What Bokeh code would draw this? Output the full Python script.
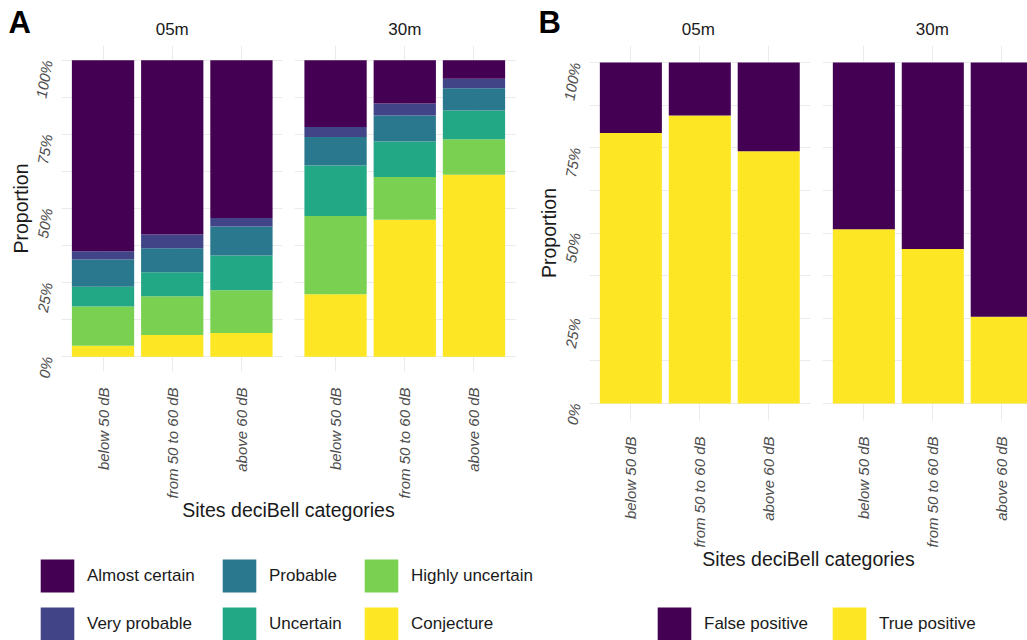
from bokeh.plotting import figure
from bokeh.models import (ColumnDataSource, Range1d, FixedTicker, Grid,
                          Label, Legend, LegendItem, PrintfTickFormatter)
from bokeh.layouts import row, column
from bokeh.embed import file_html
from bokeh.resources import INLINE
import math

# ---------------- data ----------------
facets = ["05m", "30m"]
categories = ["below 50 dB", "from 50 to 60 dB", "above 60 dB"]

# Panel A: percentage of each confidence level per bar (05m x 3 categories, then 30m x 3)
levels_a = ["Almost certain", "Very probable", "Probable", "Uncertain", "Highly uncertain", "Conjecture"]
almost_certain = [64.4, 58.8, 53.2, 22.5, 14.6, 6.2]
very_probable = [2.8, 4.6, 2.9, 3.4, 4.0, 3.2]
probable = [9.2, 8.1, 9.8, 9.6, 8.8, 7.5]
uncertain = [6.7, 8.1, 11.7, 17.0, 12.0, 9.7]
highly_uncertain = [13.2, 13.1, 14.4, 26.4, 14.4, 12.0]
conjecture = [3.7, 7.3, 8.0, 21.1, 46.2, 61.4]

# Panel B
levels_b = ["False positive", "True positive"]
false_positive = [20.7, 15.5, 26.0, 48.9, 54.7, 74.6]
true_positive = [79.3, 84.5, 74.0, 51.1, 45.3, 25.4]

y_ticks = [0, 25, 50, 75, 100]
y_minor = [12.5, 37.5, 62.5, 87.5]

# ---------------- style ----------------
VIRIDIS6 = ["#440154", "#414487", "#2A788E", "#22A884", "#7AD151", "#FDE725"]
VIRIDIS2 = ["#440154", "#FDE725"]
FONT = "Liberation Sans"
GRID = "#EBEBEB"
TXT = "#1A1A1A"
TICK_TXT = "#4D4D4D"


def positions(offset):
    xs = []
    for f in range(len(facets)):
        for i in range(len(categories)):
            xs.append(round(1 + i + f * offset, 4))
    return xs


def blank(width, height, x_range, y_range):
    p = figure(width=width, height=height, output_backend="svg", toolbar_location=None,
               x_range=x_range, y_range=y_range, x_axis_location=None, y_axis_location=None,
               min_border_left=0, min_border_right=0, min_border_top=0, min_border_bottom=0,
               outline_line_color=None, background_fill_color="white",
               border_fill_color="white", frame_align=False)
    p.grid.visible = False
    return p


def make_panel(fig_w, head_h, main_h, leg_h, left, frame_w, x_end, offset,
               letter, letter_x, label_standoff,
               stack_names, stack_values, colors, legend_specs, bottom):
    xs = positions(offset)
    right = fig_w - left - frame_w
    scale = frame_w / (x_end - 0.4)

    # ---- main plot ----
    p = figure(width=fig_w, height=main_h, output_backend="svg", toolbar_location=None,
               x_range=Range1d(0.4, x_end), y_range=Range1d(-5, 105),
               min_border_left=left, min_border_right=right,
               min_border_top=0, min_border_bottom=bottom,
               outline_line_color=None, background_fill_color="white",
               border_fill_color="white", frame_align=False)
    bottoms = [0.0] * len(xs)
    sources = {}
    for name, vals, col in reversed(list(zip(stack_names, stack_values, colors))):
        tops = [b + v for b, v in zip(bottoms, vals)]
        src = ColumnDataSource(dict(x=xs, bottom=bottoms, top=tops))
        p.vbar(x="x", bottom="bottom", top="top", width=0.9, source=src,
               fill_color=col, line_color=None)
        sources[name] = src
        bottoms = tops

    xa = p.xaxis[0]
    xa.ticker = FixedTicker(ticks=xs)
    xa.major_label_overrides = {x: categories[i % 3] for i, x in enumerate(xs)}
    xa.major_label_orientation = math.pi / 2
    xa.major_label_text_font = FONT
    xa.major_label_text_font_style = "italic"
    xa.major_label_text_font_size = "15px"
    xa.major_label_text_color = TICK_TXT
    xa.major_label_standoff = 10
    xa.axis_label = "Sites deciBell categories"
    xa.axis_label_text_font = FONT
    xa.axis_label_text_font_style = "normal"
    xa.axis_label_text_font_size = "19.5px"
    xa.axis_label_text_color = TXT
    xa.axis_label_standoff = -2
    xa.axis_line_color = None
    xa.major_tick_line_color = None
    xa.minor_tick_line_color = None

    ya = p.yaxis[0]
    ya.ticker = FixedTicker(ticks=y_ticks)
    ya.formatter = PrintfTickFormatter(format="%d%%")
    ya.major_label_orientation = math.radians(80)
    ya.major_label_text_font = FONT
    ya.major_label_text_font_style = "italic"
    ya.major_label_text_font_size = "15px"
    ya.major_label_text_color = TICK_TXT
    ya.major_label_standoff = 8
    ya.axis_label = "Proportion"
    ya.axis_label_text_font = FONT
    ya.axis_label_text_font_style = "normal"
    ya.axis_label_text_font_size = "19.5px"
    ya.axis_label_text_color = TXT
    ya.axis_label_standoff = label_standoff
    ya.axis_line_color = None
    ya.major_tick_line_color = None
    ya.minor_tick_line_color = None

    p.xgrid.grid_line_color = GRID
    p.xgrid.grid_line_width = 1
    p.ygrid.visible = False
    for f in range(len(facets)):
        lo = 0.4 + f * offset
        g = Grid(dimension=1, ticker=FixedTicker(ticks=y_ticks, minor_ticks=y_minor),
                 cross_bounds=(lo, lo + 3.2), grid_line_color=GRID, grid_line_width=1,
                 minor_grid_line_color=GRID, minor_grid_line_width=1)
        p.add_layout(g)

    # ---- header: panel letter and facet strip titles ----
    h = blank(fig_w, head_h,
              Range1d(0.4 - left / scale, 0.4 + (fig_w - left) / scale), Range1d(0, head_h))
    h.add_layout(Label(x=letter_x, y=23, x_units="screen", y_units="screen",
                       text=letter, text_font=FONT, text_font_style="bold",
                       text_font_size="31px", text_color="black",
                       text_baseline="alphabetic", text_align="left"))
    for i, f in enumerate(facets):
        h.add_layout(Label(x=xs[1 + 3 * i], y=16, x_units="data", y_units="screen",
                           text=f, text_font=FONT, text_font_size="17px", text_color=TXT,
                           text_baseline="alphabetic", text_align="center"))

    # ---- legend strip (keys linked to the same data sources, not drawn) ----
    lg = blank(fig_w, leg_h, Range1d(0, 1), Range1d(0, 1))
    keys = {}
    for name, col in zip(stack_names, colors):
        keys[name] = lg.vbar(x="x", bottom="bottom", top="top", width=0.9,
                             source=sources[name], fill_color=col, line_color=None,
                             visible=False)
    for names, loc, orient, spacing in legend_specs:
        items = [LegendItem(label=n, renderers=[keys[n]]) for n in names]
        L = Legend(items=items, location=loc, orientation=orient,
                   glyph_width=42, glyph_height=41, label_standoff=9,
                   spacing=spacing, padding=0, margin=0,
                   border_line_color=None, background_fill_alpha=0,
                   label_text_font=FONT, label_text_font_size="17px",
                   label_text_color=TXT, label_height=41)
        lg.add_layout(L)
    return column(h, p, lg, spacing=0)


# Panel A: frame x 61..515, y 45..371
colA = make_panel(535, 45, 500, 95, 61, 454, 6.96, 3.36, "A", 8, -11,
                  levels_a,
                  [almost_certain, very_probable, probable, uncertain, highly_uncertain, conjecture],
                  VIRIDIS6,
                  [(levels_a[0:2], (36, -4), "vertical", 7),
                   (levels_a[2:4], (218, -4), "vertical", 7),
                   (levels_a[4:6], (360, -4), "vertical", 7)],
                  174)

# Panel B: frame x 587..1027, y 45..420
colB = make_panel(492, 45, 545, 50, 52, 440, 0.4 + 440 / 69.25, 3.38, "B", 3, -11,
                  levels_b, [false_positive, true_positive], VIRIDIS2,
                  [(levels_b, (118, -4), "horizontal", 20)],
                  170)

layout = row(colA, colB, spacing=0)
open("out.html", "w").write(file_html(layout, INLINE))
